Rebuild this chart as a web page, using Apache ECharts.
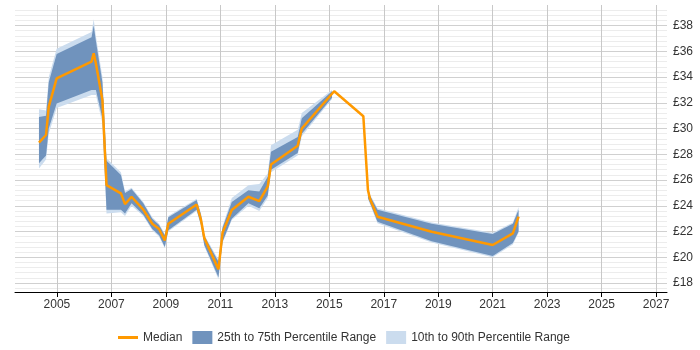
<!DOCTYPE html>
<html>
<head>
<meta charset="utf-8">
<script src="https://cdn.jsdelivr.net/npm/echarts@6.0.0/dist/echarts.min.js"></script>
<style>
  html, body { margin: 0; padding: 0; background: #fff; }
  #chart { width: 700px; height: 350px; }
</style>
</head>
<body>
<div id="chart"></div>
<script>
// values (£ per hour)
var years  = [2004.34, 2004.6, 2004.7, 2004.99, 2006.27, 2006.35, 2006.43, 2006.67, 2006.82,
              2007.35, 2007.5, 2007.74, 2008.17, 2008.5, 2008.75, 2008.96, 2009.09, 2010.13,
              2010.29, 2010.41, 2010.93, 2011.08, 2011.42, 2012.03, 2012.43, 2012.74, 2012.86,
              2013.84, 2013.99, 2015.1, 2015.18, 2016.25, 2016.42, 2016.5, 2016.77, 2018.76,
              2021.0, 2021.74, 2021.95];
var median = [28.9, 29.5, 31.7, 33.9, 35.2, 35.85, 35.05, 32.2, 25.6,
              24.96, 24.13, 24.7, 23.7, 22.6, 22.2, 21.3, 22.6, 24.1,
              22.9, 21.5, 19.06, 21.9, 23.67, 24.7, 24.36, 25.5, 27.2,
              28.66, 30.0, 32.7, 32.9, 30.96, 25.2, 24.5, 23.15, 21.98,
              20.95, 21.85, 23.15];
var p25    = [27.3, 27.9, 30.0, 31.95, 33.0, 33.0, 33.0, 30.8, 23.7,
              23.7, 23.4, 24.2, 23.3, 22.2, 21.7, 20.8, 22.1, 23.7,
              22.5, 20.95, 18.45, 21.2, 23.0, 24.2, 23.8, 24.8, 26.8,
              28.1, 29.6, 32.4, null, null, 24.6, 24.2, 22.75, 21.25,
              20.1, 21.1, 22.0];
var p75    = [30.9, 31.0, 33.6, 35.8, 37.1, 38.0, 36.8, 33.6, 27.5,
              26.4, 25.0, 25.3, 24.2, 23.0, 22.5, 21.7, 23.1, 24.45,
              23.3, 21.65, 19.65, 22.3, 24.3, 25.2, 25.1, 26.25, 28.2,
              29.35, 30.8, 32.9, null, null, 25.4, 24.75, 23.7, 22.6,
              21.8, 22.6, 23.7];
var p10    = [26.9, 27.6, 29.6, 31.6, 32.6, 32.6, 32.6, 30.4, 23.4,
              23.5, 23.2, 24.0, 23.2, 22.1, 21.6, 20.7, 22.0, 23.6,
              22.4, 20.85, 18.3, 21.1, 22.9, 24.0, 23.6, 24.6, 26.6,
              27.9, 29.4, 32.3, null, null, 24.5, 24.1, 22.65, 21.15,
              20.0, 21.0, 21.9];
var p90    = [31.5, 31.4, 34.0, 36.2, 37.5, 38.5, 37.2, 34.0, 27.7,
              26.6, 25.1, 25.4, 24.3, 23.1, 22.6, 21.8, 23.2, 24.55,
              23.4, 21.75, 19.8, 22.4, 24.6, 25.6, 25.7, 26.5, 28.7,
              29.9, 31.2, 33.0, null, null, 25.5, 24.85, 23.8, 22.7,
              21.9, 22.7, 23.9];

var yearTicks  = [2005, 2007, 2009, 2011, 2013, 2015, 2017, 2019, 2021, 2023, 2025, 2027];
var priceTicks = [18, 20, 22, 24, 26, 28, 30, 32, 34, 36, 38];

var colMedian = '#f90';
var colDark = '#7093bd';
var colLight = '#cbdcee';

// faint grid lines every 0.4 between the labelled ones
var minorTicks = [];
for (var v = 17.6; v < 39.5; v += 0.4) {
  var r = Math.round(v * 10) / 10;
  if (Math.abs(r / 2 - Math.round(r / 2)) > 0.01) minorTicks.push(r);
}

// one filled polygon per unbroken run of band values
function bandSeries(name, lo, hi, color, z) {
  return {
    name: name,
    type: 'custom',
    z: z,
    silent: true,
    itemStyle: { color: color },
    encode: { x: 0, y: [1, 2] },
    data: years.map(function (x, i) { return [x, lo[i], hi[i]]; }),
    renderItem: function (params, api) {
      if (params.dataIndex !== 0) return null;
      var shapes = [];
      var run = [];
      function flush() {
        if (run.length > 1) {
          var pts = [];
          run.forEach(function (i) { pts.push(api.coord([years[i], lo[i]])); });
          run.slice().reverse().forEach(function (i) { pts.push(api.coord([years[i], hi[i]])); });
          shapes.push({ type: 'polygon', shape: { points: pts }, style: { fill: color } });
        }
        run = [];
      }
      for (var i = 0; i < years.length; i++) {
        if (lo[i] == null || hi[i] == null) flush();
        else run.push(i);
      }
      flush();
      return { type: 'group', children: shapes };
    }
  };
}

var chart = echarts.init(document.getElementById('chart'));

chart.setOption({
  animation: false,
  textStyle: { fontFamily: 'Liberation Sans, Arial, sans-serif' },
  grid: { left: 15, right: 33, top: 5, bottom: 58, containLabel: false },
  legend: {
    left: 113,
    top: 326,
    itemWidth: 20,
    itemHeight: 13,
    itemGap: 10,
    textStyle: { fontSize: 12, color: '#333' },
    data: [
      { name: 'Median', icon: 'path://M0,0H20V3H0Z', itemStyle: { color: colMedian } },
      { name: '25th to 75th Percentile Range', icon: 'rect', itemStyle: { color: colDark } },
      { name: '10th to 90th Percentile Range', icon: 'rect', itemStyle: { color: colLight } }
    ]
  },
  xAxis: {
    type: 'value',
    min: 2003.46,
    max: 2027.4,
    axisLine: { lineStyle: { color: '#000', width: 1 } },
    axisTick: { length: 5, customValues: yearTicks, lineStyle: { color: '#000' } },
    axisLabel: {
      customValues: yearTicks, color: '#333', fontSize: 12, margin: 7,
      formatter: function (v) { return String(v); }
    },
    splitLine: { show: true, lineStyle: { color: '#c8c8c8' } }
  },
  yAxis: [
    {
      type: 'value',
      position: 'right',
      min: 17.3,
      max: 39.6,
      axisLine: { show: false },
      axisTick: { show: false, customValues: priceTicks },
      axisLabel: {
        customValues: priceTicks, color: '#333', fontSize: 12, margin: 6,
        formatter: function (v) { return '£' + v; }
      },
      splitLine: { show: true, lineStyle: { color: '#d0d0d0' } }
    },
    {
      type: 'value',
      position: 'right',
      min: 17.3,
      max: 39.6,
      axisLine: { show: false },
      axisTick: { show: false, customValues: minorTicks },
      axisLabel: { show: false, customValues: minorTicks },
      splitLine: { show: true, lineStyle: { color: '#ececec' } }
    }
  ],
  series: [
    bandSeries('10th to 90th Percentile Range', p10, p90, colLight, 1),
    bandSeries('25th to 75th Percentile Range', p25, p75, colDark, 2),
    {
      name: 'Median', type: 'line', symbol: 'none', z: 3,
      lineStyle: { color: colMedian, width: 2.5 }, itemStyle: { color: colMedian },
      data: years.map(function (x, i) { return [x, median[i]]; })
    }
  ]
});
</script>
</body>
</html>
